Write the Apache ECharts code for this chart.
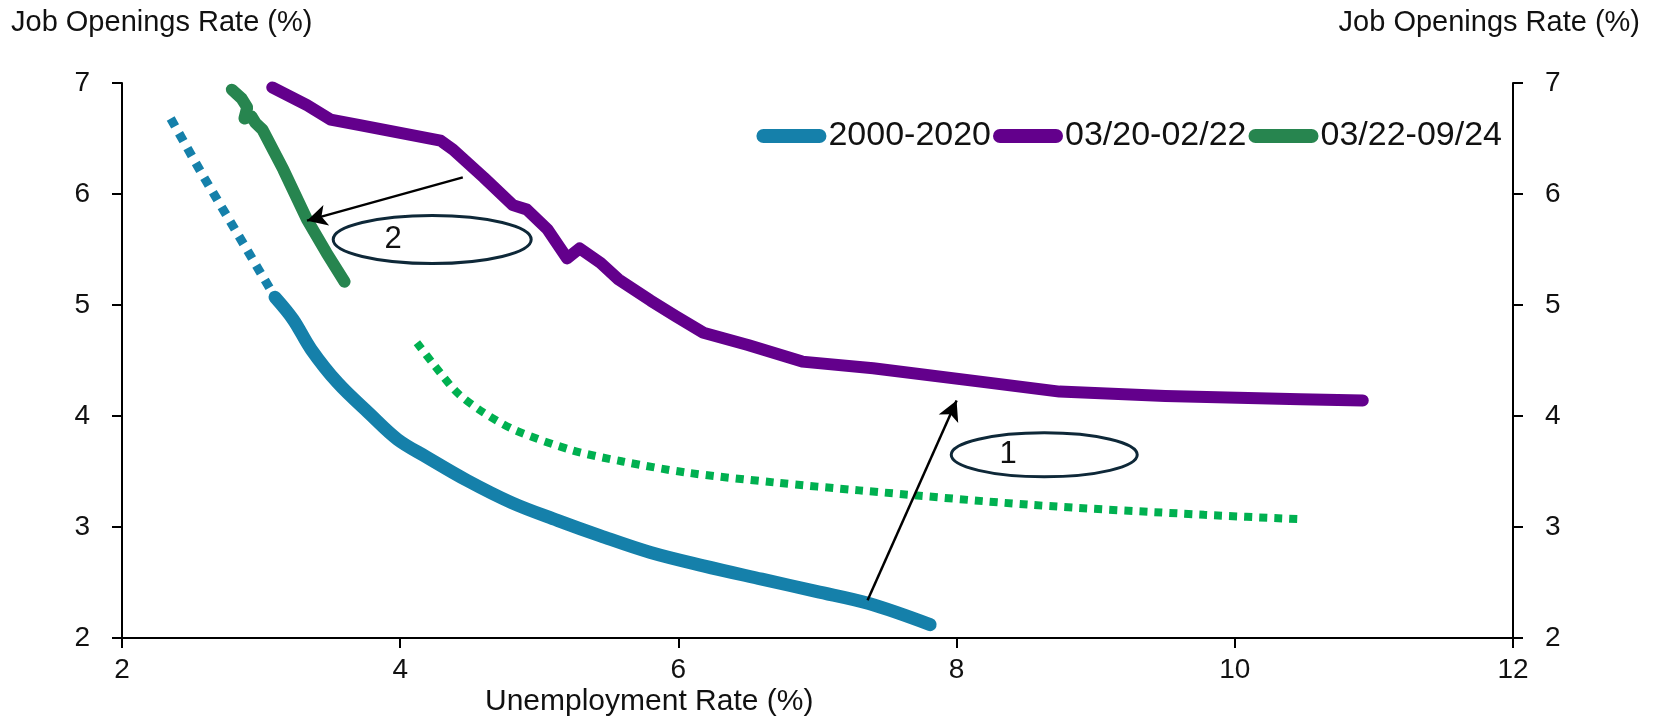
<!DOCTYPE html>
<html>
<head>
<meta charset="utf-8">
<script src="https://cdn.jsdelivr.net/npm/echarts@6/dist/echarts.min.js"></script>
<style>
  html, body { margin: 0; padding: 0; background: #fff; }
  #chart { width: 1661px; height: 727px; }
</style>
</head>
<body>
<div id="chart"></div>
<script>
// axis ticks
var xTicks = [2, 4, 6, 8, 10, 12];
var yTicks = [2, 3, 4, 5, 6, 7];

// series values, [unemployment rate, job openings rate]
var blueFit = [[2.35, 6.68], [2.58, 6.17], [2.85, 5.60], [3.10, 5.07]];
var blueActual = [
  [3.10, 5.07], [3.23, 4.87], [3.36, 4.60], [3.55, 4.30], [3.78, 4.02],
  [3.98, 3.79], [4.19, 3.63], [4.48, 3.42], [4.80, 3.22], [5.13, 3.06],
  [5.44, 2.92], [5.80, 2.77], [6.18, 2.65], [6.60, 2.53], [6.99, 2.42],
  [7.37, 2.31], [7.81, 2.12]
];
var purple = [
  [3.08, 6.96], [3.33, 6.80], [3.50, 6.67], [3.71, 6.62], [4.29, 6.48],
  [4.38, 6.40], [4.60, 6.15], [4.81, 5.90], [4.91, 5.86], [5.06, 5.68],
  [5.20, 5.42], [5.29, 5.51], [5.44, 5.38], [5.57, 5.23], [5.80, 5.04],
  [5.98, 4.90], [6.18, 4.75], [6.50, 4.64], [6.89, 4.49], [7.40, 4.43],
  [8.17, 4.31], [8.74, 4.22], [9.50, 4.18], [10.47, 4.15], [10.92, 4.14]
];
var green = [
  [2.79, 6.94], [2.86, 6.86], [2.90, 6.78], [2.88, 6.68], [2.93, 6.70],
  [2.96, 6.64], [3.01, 6.58], [3.16, 6.22], [3.33, 5.77], [3.47, 5.47],
  [3.60, 5.21]
];
var greenFit = [
  [4.12, 4.66], [4.25, 4.45], [4.41, 4.21], [4.60, 4.03], [4.83, 3.87],
  [5.24, 3.69], [5.60, 3.59], [6.06, 3.49], [6.70, 3.40], [7.30, 3.33],
  [8.53, 3.20], [9.78, 3.11], [10.48, 3.07]
];

// annotations
var arrowOne = [[7.36, 2.34], [8.00, 4.14]];
var arrowTwo = [[4.45, 6.15], [3.33, 5.76]];
var bubbleLabels = ['1', '2'];
var bubbleCenters = [[8.63, 3.65], [4.23, 5.59]];
var bubbleTextPos = [[8.37, 3.65], [3.95, 5.59]];

var seriesNames = ['2000-2020', '03/20-02/22', '03/22-09/24'];

var BLUE = '#1580aa', PURPLE = '#63008c', GREEN = '#27854f', LIGHTGREEN = '#00b050';
var FONT = 'Liberation Sans, Arial, sans-serif';

var chart = echarts.init(document.getElementById('chart'));

function yAxisCfg(pos) {
  return {
    type: 'value', position: pos, min: 2, max: 7, interval: 1,
    axisLine: { show: true, lineStyle: { color: '#000', width: 2 } },
    axisTick: { show: true, length: 10, lineStyle: { color: '#000', width: 2 } },
    axisLabel: { margin: 32, color: '#111', fontSize: 28, fontFamily: FONT },
    splitLine: { show: false }
  };
}

var capsule = 'path://M7,0 L63,0 A7,7 0 0 1 63,14 L7,14 A7,7 0 0 1 7,0 Z';

var option = {
  animation: false,
  grid: { left: 122, right: 148, top: 83, bottom: 89 },
  legend: {
    data: seriesNames.map(function (n) { return { name: n, icon: capsule }; }),
    right: 154, top: 114,
    itemWidth: 70, itemHeight: 14, itemGap: 2,
    textStyle: { fontSize: 34, fontFamily: FONT, color: '#111', padding: [0, 0, 0, -3] }
  },
  xAxis: {
    type: 'value', min: xTicks[0], max: xTicks[xTicks.length - 1], interval: 2,
    axisLine: { show: true, onZero: false, lineStyle: { color: '#000', width: 2 } },
    axisTick: { show: true, length: 10, lineStyle: { color: '#000', width: 2 } },
    axisLabel: { margin: 18, color: '#111', fontSize: 28, fontFamily: FONT },
    splitLine: { show: false }
  },
  yAxis: [yAxisCfg('left'), yAxisCfg('right')],
  graphic: [
    { type: 'text', left: 11, top: 8,
      style: { text: 'Job Openings Rate (%)', fontSize: 29, fontFamily: FONT, fill: '#111' } },
    { type: 'text', right: 21, top: 8,
      style: { text: 'Job Openings Rate (%)', fontSize: 29, fontFamily: FONT, fill: '#111' } },
    { type: 'text', left: 485, top: 687,
      style: { text: 'Unemployment Rate (%)', fontSize: 30, fontFamily: FONT, fill: '#111' } }
  ],
  series: [
    { name: 'blueFit', type: 'line', data: blueFit, showSymbol: false, silent: true,
      lineStyle: { color: BLUE, width: 9, type: [9, 8], cap: 'butt' } },
    { name: seriesNames[0], type: 'line', data: blueActual, showSymbol: false, color: BLUE,
      smooth: 0.35,
      lineStyle: { color: BLUE, width: 13, cap: 'round', join: 'round' } },
    { name: seriesNames[1], type: 'line', data: purple, showSymbol: false, color: PURPLE,
      lineStyle: { color: PURPLE, width: 12, cap: 'round', join: 'round' } },
    { name: seriesNames[2], type: 'line', data: green, showSymbol: false, color: GREEN,
      lineStyle: { color: GREEN, width: 12, cap: 'round', join: 'round' } },
    { name: 'greenFit', type: 'line', data: greenFit, showSymbol: false, silent: true,
      smooth: 0.3,
      lineStyle: { color: LIGHTGREEN, width: 8, type: [8, 7], cap: 'butt' } },
    { name: 'arrows', type: 'line', data: [], silent: true,
      markLine: {
        silent: true, symbol: ['none', 'arrow'], symbolSize: [16, 20],
        label: { show: false },
        lineStyle: { color: '#000', width: 2.5, type: 'solid' },
        data: [
          [{ coord: arrowOne[0] }, { coord: arrowOne[1] }],
          [{ coord: arrowTwo[0] }, { coord: arrowTwo[1] }]
        ]
      } }
  ]
};

chart.setOption(option);

// ellipses and their numbers, placed through the axis scales
var extra = option.graphic.slice();
bubbleCenters.forEach(function (c, i) {
  var p = chart.convertToPixel({ xAxisIndex: 0, yAxisIndex: 0 }, c);
  var t = chart.convertToPixel({ xAxisIndex: 0, yAxisIndex: 0 }, bubbleTextPos[i]);
  extra.push({
    type: 'ellipse', z: 10,
    shape: { cx: p[0], cy: p[1], rx: i === 0 ? 93 : 99, ry: i === 0 ? 22 : 24 },
    style: { fill: 'none', stroke: '#0e2838', lineWidth: 3 }
  });
  extra.push({
    type: 'text', z: 11, x: t[0], y: t[1],
    style: { text: bubbleLabels[i], fontSize: 31, fontFamily: FONT, fill: '#111',
             align: 'center', verticalAlign: 'middle' }
  });
});
chart.setOption({ graphic: extra });
</script>
</body>
</html>
